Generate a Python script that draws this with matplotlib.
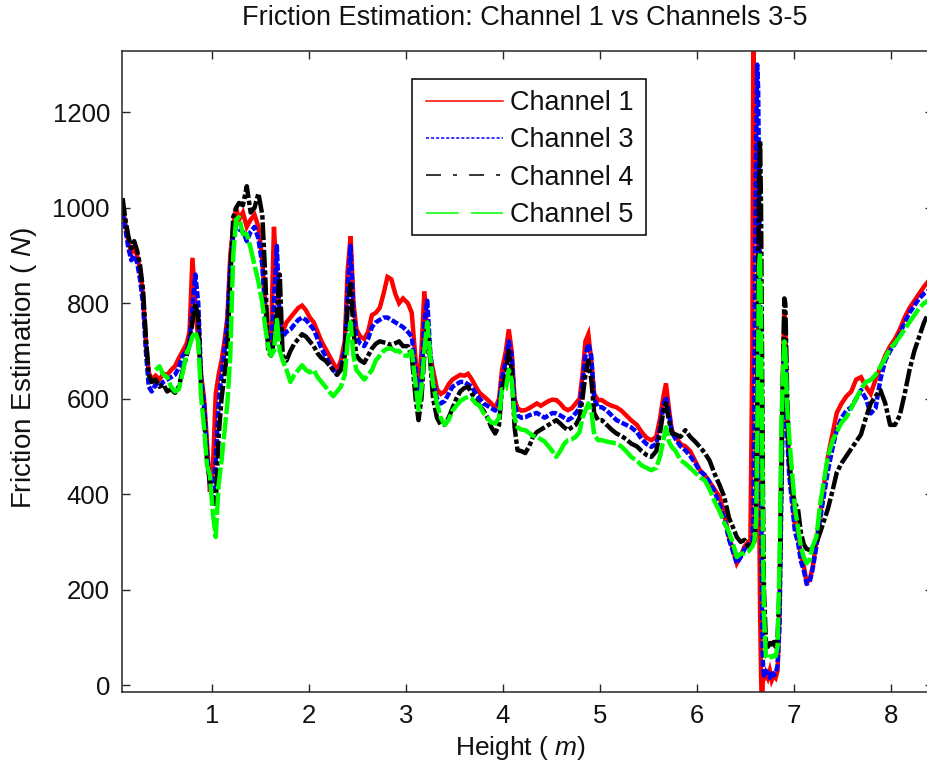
import matplotlib
matplotlib.use("Agg")
import numpy as np
import matplotlib.pyplot as plt
from matplotlib.lines import Line2D
from matplotlib.patches import Rectangle

# Height along the shaft (m)
height = [
    0.08, 0.11, 0.14, 0.17, 0.20, 0.23, 0.26, 0.29, 0.32, 0.35, 0.38, 0.42, 0.46, 0.50, 0.54, 0.58, 0.62, 0.66, 0.70, 0.74,
    0.77, 0.80, 0.83, 0.86, 0.89, 0.92, 0.95, 0.98, 1.01, 1.04, 1.07, 1.10, 1.13, 1.16, 1.19, 1.22, 1.25, 1.28,
    1.32, 1.36, 1.40, 1.44, 1.48, 1.52, 1.55, 1.58, 1.61, 1.64, 1.67, 1.70, 1.73, 1.77, 1.81, 1.85, 1.89, 1.93, 1.97,
    2.01, 2.05, 2.09, 2.13, 2.17, 2.21, 2.25, 2.29, 2.33, 2.37, 2.40, 2.43, 2.46, 2.49, 2.53, 2.57, 2.61, 2.65, 2.69, 2.73,
    2.77, 2.81, 2.85, 2.89, 2.93, 2.97,
    3.02, 3.06, 3.10, 3.13, 3.16, 3.19, 3.22, 3.25, 3.28, 3.32, 3.36, 3.40, 3.44, 3.48, 3.52, 3.56, 3.60, 3.64, 3.68, 3.72,
    3.76, 3.80, 3.84, 3.88, 3.92, 3.96, 3.99,
    4.03, 4.06, 4.09, 4.12, 4.15, 4.19, 4.23, 4.27, 4.31, 4.35, 4.39, 4.43, 4.47, 4.51, 4.55, 4.59, 4.63, 4.67, 4.71, 4.75,
    4.79, 4.82, 4.85, 4.88, 4.91, 4.94, 4.98,
    5.02, 5.07, 5.12, 5.17, 5.22, 5.27, 5.32, 5.38, 5.43, 5.48, 5.53, 5.58, 5.62, 5.65, 5.68, 5.71, 5.74, 5.78, 5.83, 5.88,
    5.93, 5.98, 6.03, 6.08, 6.13, 6.18, 6.23, 6.28, 6.33, 6.37, 6.41, 6.45, 6.49, 6.53,
    6.55, 6.57, 6.58, 6.59, 6.60, 6.61, 6.62, 6.63, 6.64, 6.65, 6.66, 6.67, 6.68, 6.69, 6.71, 6.73, 6.75, 6.77, 6.79, 6.81,
    6.83, 6.85, 6.87, 6.89, 6.90, 6.91, 6.92, 6.93, 6.95, 6.97, 6.99, 7.01,
    7.04, 7.07, 7.10, 7.13, 7.16, 7.19, 7.23, 7.27, 7.31, 7.35, 7.40, 7.44, 7.49, 7.54, 7.59, 7.64, 7.69, 7.74, 7.79, 7.84,
    7.89, 7.94, 7.99, 8.04, 8.09, 8.14, 8.19, 8.24, 8.29, 8.34, 8.40,
]

# Friction estimates (N) per channel
ch1 = [
    1000, 965, 930, 905, 915, 900, 870, 820, 720, 655, 640, 648, 640, 652, 650, 660, 668, 685, 700, 715,
    740, 895, 800, 720, 650, 600, 510, 405, 450, 610, 650, 680, 720, 770, 900, 960, 1000, 975,
    990, 960, 975, 985, 960, 890, 800, 730, 720, 960, 850, 760, 740, 760, 770, 780, 790, 795, 785,
    770, 760, 740, 720, 705, 690, 675, 660, 680, 720, 870, 940, 800, 745, 730, 725, 740, 775, 780, 790,
    820, 855, 850, 820, 800, 810,
    800, 780, 680, 615, 700, 825, 740, 690, 660, 620, 610, 615, 630, 640, 645, 650, 648, 652, 640, 625,
    612, 605, 598, 590, 580, 600, 660,
    700, 745, 700, 600, 580, 575, 576, 580, 585, 590, 585, 590, 595, 598, 597, 590, 580, 576, 580, 590,
    600, 650, 720, 735, 680, 610, 597,
    597, 590, 585, 582, 575, 565, 555, 545, 530, 518, 513, 520, 560, 600, 632, 580, 534, 520, 505, 500,
    490, 470, 450, 440, 425, 410, 395, 360, 310, 285, 255, 270, 290, 300,
    300, 700, 1350, 950, 1180, 940, 1100, 700, 400, 150, 20, -60, 30, 10, 25, 15, 30, 10, 20, 15,
    30, 150, 500, 700, 780, 760, 650, 550, 460, 420, 380, 330,
    320, 270, 250, 215, 220, 245, 300, 360, 420, 480, 530, 570, 590, 605, 615, 640, 645, 625, 610, 640,
    665, 690, 710, 725, 745, 770, 790, 805, 820, 835, 850,
]

ch3 = [
    990, 955, 915, 890, 900, 885, 850, 800, 700, 625, 615, 630, 625, 635, 640, 645, 650, 665, 690, 700,
    720, 790, 860, 800, 640, 590, 490, 420, 390, 470, 590, 650, 700, 760, 880, 940, 960, 955,
    950, 930, 950, 960, 935, 880, 780, 720, 700, 800, 920, 760, 730, 740, 745, 755, 765, 770, 765,
    755, 745, 725, 705, 690, 675, 660, 650, 665, 705, 830, 920, 780, 730, 715, 710, 725, 750, 760, 765,
    770, 770, 765, 760, 755, 750,
    740, 730, 660, 600, 640, 760, 805, 700, 640, 600, 590, 595, 610, 625, 630, 635, 635, 630, 625, 610,
    600, 590, 585, 580, 575, 590, 640,
    680, 720, 690, 590, 565, 560, 561, 565, 568, 570, 565, 560, 565, 570, 569, 565, 560, 555, 560, 570,
    580, 630, 690, 715, 690, 600, 582,
    582, 575, 565, 555, 550, 545, 540, 530, 515, 505, 499, 505, 540, 580, 604, 570, 530, 515, 500, 492,
    480, 465, 448, 440, 425, 405, 380, 350, 305, 280, 255, 268, 285, 295,
    290, 300, 350, 600, 900, 1150, 1300, 1250, 1050, 800, 450, 150, 40, 20, 30, 25, 15, 30, 20, 25,
    40, 120, 400, 650, 720, 700, 620, 520, 440, 400, 360, 320,
    300, 260, 240, 212, 215, 241, 290, 350, 400, 450, 500, 534, 560, 575, 582, 600, 618, 600, 569, 580,
    640, 680, 700, 715, 735, 760, 780, 795, 810, 820, 828,
]

ch4 = [
    1020, 975, 940, 915, 930, 910, 880, 830, 730, 650, 635, 640, 625, 630, 615, 620, 612, 625, 660, 690,
    715, 760, 800, 770, 620, 560, 470, 430, 380, 380, 520, 600, 650, 700, 850, 980, 1000, 1010,
    1005, 1045, 990, 1000, 1030, 985, 860, 700, 690, 720, 780, 860, 690, 680, 700, 715, 725, 735, 730,
    720, 710, 695, 685, 680, 670, 660, 650, 660, 690, 790, 840, 740, 690, 680, 675, 690, 705, 715, 720,
    718, 716, 712, 716, 720, 710,
    710, 690, 600, 555, 600, 690, 760, 680, 600, 560, 545, 545, 560, 580, 600, 615, 622, 625, 610, 595,
    585, 575, 560, 540, 527, 545, 620,
    650, 700, 660, 540, 492, 490, 486, 500, 520, 530, 535, 540, 545, 550, 555, 548, 540, 534, 540, 545,
    560, 600, 650, 680, 640, 570, 555,
    555, 545, 535, 527, 522, 515, 506, 500, 490, 482, 478, 490, 530, 570, 590, 555, 527, 525, 520, 534,
    520, 510, 499, 486, 470, 443, 420, 395, 350, 331, 310, 300, 304, 290,
    290, 295, 298, 300, 320, 400, 600, 850, 1050, 1140, 1000, 700, 400, 200, 90, 80, 88, 85, 90, 80,
    100, 200, 450, 700, 810, 800, 700, 600, 480, 430, 400, 380,
    370, 320, 295, 285, 283, 288, 297, 320, 345, 370, 410, 445, 465, 480, 495, 510, 525, 560, 590, 605,
    618, 590, 545, 545, 565, 610, 660, 700, 730, 760, 785,
]

nan = np.nan
ch5 = [
    nan, nan, nan, nan, nan, nan, nan, nan, nan, nan, nan, 660, 668, 650, 645, 625, 615, 620, 655, 695,
    710, 730, 740, 720, 600, 540, 460, 440, 360, 310, 420, 470, 530, 590, 690, 900, 975, 980,
    945, 945, 915, 880, 845, 800, 750, 710, 690, 700, 765, 700, 680, 660, 635, 650, 660, 670, 660,
    655, 660, 645, 635, 625, 615, 605, 615, 625, 650, 720, 760, 690, 660, 650, 640, 650, 660, 680, 690,
    700, 705, 705, 700, 700, 690,
    690, 700, 630, 576, 620, 700, 760, 690, 630, 590, 560, 545, 555, 575, 585, 595, 600, 604, 600, 590,
    585, 570, 560, 550, 548, 560, 620,
    620, 660, 640, 560, 540, 535, 534, 528, 522, 520, 515, 510, 500, 490, 478, 490, 505, 513, 515, 520,
    530, 560, 575, 590, 575, 525, 513,
    513, 510, 508, 506, 500, 490, 478, 470, 460, 455, 450, 455, 480, 510, 540, 510, 499, 490, 471, 464,
    455, 445, 435, 429, 410, 385, 365, 340, 320, 297, 268, 275, 276, 280,
    285, 290, 295, 300, 320, 350, 500, 700, 880, 905, 750, 550, 300, 150, 60, 55, 60, 58, 62, 60,
    80, 250, 550, 680, 720, 700, 640, 580, 520, 470, 420, 370,
    330, 290, 268, 255, 262, 290, 310, 380, 430, 480, 513, 530, 550, 561, 580, 600, 620, 635, 639, 650,
    667, 685, 705, 716, 730, 745, 760, 775, 790, 800, 808,
]

labels = ["Channel 1", "Channel 3", "Channel 4", "Channel 5"]
colors = ["#ff0000", "#0000ff", "#000000", "#00ff00"]
# dense dash patterns for the thick traces, classic patterns for the legend keys
trace_dashes = [None, (1.6, 0.5), (4.0, 0.6, 1.0, 0.6), (5.0, 0.7)]
key_styles = [dict(linestyle="-"),
              dict(dashes=(2.0, 1.3)),
              dict(dashes=(9.8, 7.9, 2.6, 7.9)),
              dict(dashes=(21.5, 8.0))]

plt.rcParams["font.family"] = ["Liberation Sans", "DejaVu Sans"]
plt.rcParams["mathtext.fontset"] = "custom"
plt.rcParams["mathtext.rm"] = "Liberation Sans"
plt.rcParams["mathtext.it"] = "Liberation Sans:italic"

TXT = "#111111"
W, H = 928, 769
fig = plt.figure(figsize=(W / 100, H / 100), dpi=100)
L, R, T, B = 121.7, 933.0, 50.7, 691.7
ax = fig.add_axes([L / W, 1 - B / H, (R - L) / W, (B - T) / H])

series = [ch1, ch3, ch4, ch5]
for vals, col, dash in zip(series, colors, trace_dashes):
    kw = dict(color=col, linewidth=3.2, solid_joinstyle="miter")
    if dash is None:
        ax.plot(height, vals, linestyle="-", **kw)
    else:
        ax.plot(height, vals, dashes=dash, **kw)

ax.set_xlim(0.071, 8.432)
ax.set_ylim(-14, 1329)
ax.set_xticks(range(1, 9))
ax.set_yticks(range(0, 1201, 200))
ax.tick_params(direction="in", length=5.8, width=1.0, top=True, right=True,
               labelsize=18.5, pad=8.5, color="#262626", labelcolor=TXT)
for sp in ax.spines.values():
    sp.set_linewidth(1.1)
    sp.set_color("#262626")

# legend: keys and labels, with its box drawn in figure pixels
handles = [Line2D([], [], color=c, linewidth=1.1, **st) for c, st in zip(colors, key_styles)]
leg = fig.legend(handles, labels, loc="upper left",
                 bbox_to_anchor=(426 / W, 1 - 90 / H), bbox_transform=fig.transFigure,
                 borderaxespad=0, borderpad=0, fontsize=19.5, handlelength=2.84,
                 handletextpad=0.26, labelspacing=0.42, frameon=False)
for t in leg.get_texts():
    t.set_color(TXT)
box = dict(xy=(412 / W, 1 - 235 / H), width=(646 - 412) / W, height=(235 - 79) / H,
           transform=fig.transFigure)
fig.patches.append(Rectangle(facecolor="white", edgecolor="none", zorder=4, **box))
fig.patches.append(Rectangle(facecolor="none", edgecolor="#000000", linewidth=1.1, zorder=5, **box))
leg.set_zorder(6)

fig.text(525 / W, 1 - 18 / H, "Friction Estimation: Channel 1 vs Channels 3-5",
         ha="center", va="center", fontsize=19.5, color=TXT)
fig.text(520 / W, 1 - 748 / H, "Height ( $\\mathit{m}$)",
         ha="center", va="center", fontsize=19, color=TXT)
fig.text(24 / W, 1 - 368 / H, "Friction Estimation ( $\\mathit{N}$)",
         ha="center", va="center", rotation=90, fontsize=20, color=TXT)

fig.savefig("out.png", dpi=100)
